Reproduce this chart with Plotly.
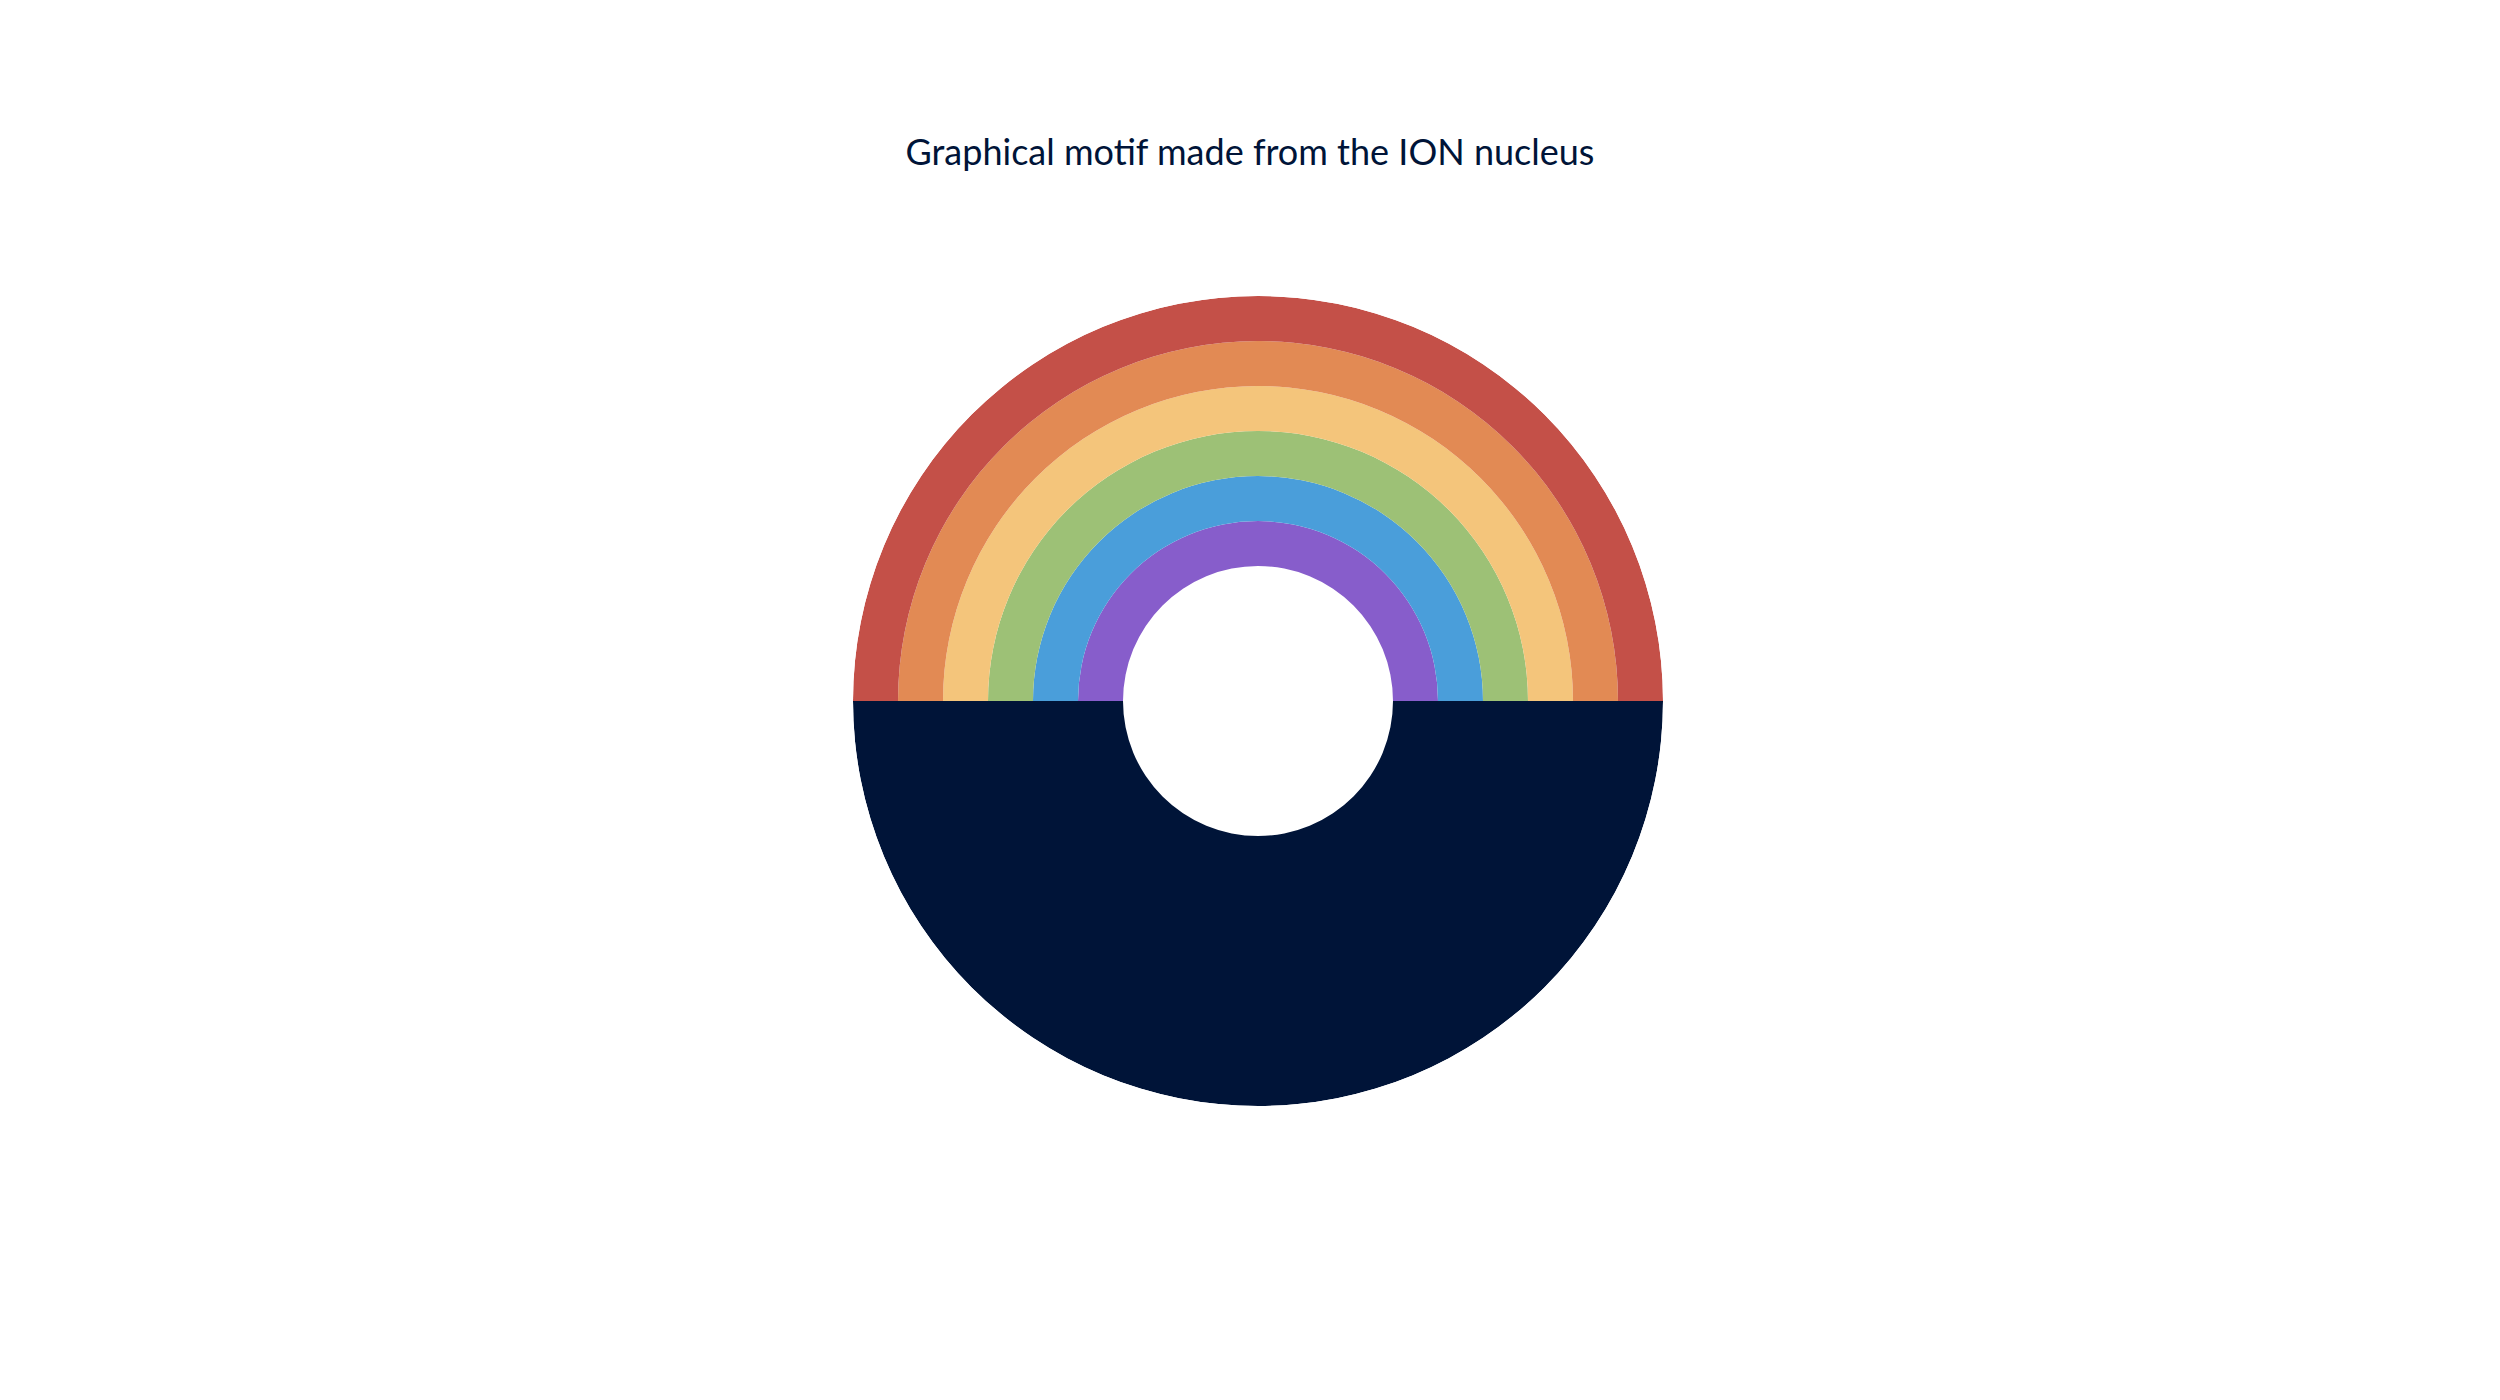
import plotly.graph_objects as go

# rings of the upper half, from inside out
ring_names = ["Violet", "Blue", "Green", "Yellow", "Orange", "Red"]
ring_colors = ["#875DCB", "#4A9EDA", "#9DC176", "#F4C57B", "#E28A54", "#C45048"]
ring_base = [3, 4, 5, 6, 7, 8]
ring_thickness = [1, 1, 1, 1, 1, 1]

# lower half: one solid band
lower_base = 3
lower_thickness = 6
lower_color = "#001438"

fig = go.Figure()

for name, color, base, t in zip(ring_names, ring_colors, ring_base, ring_thickness):
    fig.add_trace(go.Barpolar(
        r=[t],
        base=[base],
        theta=[90],
        width=[180],
        name=name,
        marker=dict(color=color, line=dict(width=0)),
        hoverinfo="skip",
    ))

fig.add_trace(go.Barpolar(
    r=[lower_thickness],
    base=[lower_base],
    theta=[270],
    width=[180],
    name="Nucleus",
    marker=dict(color=lower_color, line=dict(width=0)),
    hoverinfo="skip",
))

fig.update_layout(
    width=2500,
    height=1400,
    margin=dict(l=0, r=0, t=0, b=0),
    paper_bgcolor="white",
    showlegend=False,
    title=dict(
        text="Graphical motif made from the ION nucleus",
        x=0.4968, xanchor="center",
        y=1 - 144 / 1400, yanchor="middle", yref="container",
        font=dict(family="Lato", size=36, color="#001438"),
    ),
    polar=dict(
        domain=dict(x=[0.3380, 0.6620], y=[0.2157, 0.7943]),
        bgcolor="white",
        radialaxis=dict(range=[0, 9], visible=False, showgrid=False),
        angularaxis=dict(visible=False, showgrid=False),
        bargap=0,
    ),
)

fig.write_html("out.html")
